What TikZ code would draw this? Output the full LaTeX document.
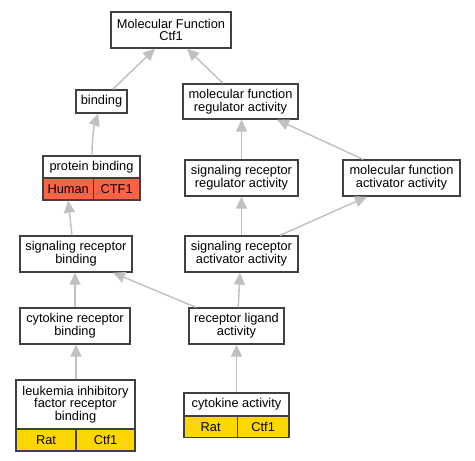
\documentclass[tikz,border=0pt]{standalone}
\usepackage{fontspec}
\setmainfont{Liberation Sans}
\usetikzlibrary{arrows.meta}
\definecolor{edgegray}{HTML}{C0C0C0}
\definecolor{boxline}{HTML}{404040}
\definecolor{human}{HTML}{FF6347}
\definecolor{rat}{HTML}{FFD700}
\begin{document}
\begin{tikzpicture}[x=1pt,y=-1pt,
  term/.style={draw=boxline, line width=1.3pt, fill=white, align=center, inner sep=0pt,
    font=\fontsize{12.8}{12.8}\selectfont},
  cell/.style={term},
  link/.style={draw=edgegray, line width=1.4pt, -{Triangle[length=12pt,width=11pt]}}]
\useasboundingbox (0,0) rectangle (475,461);
\fill[white] (0,0) rectangle (475,461);
% nodes
\node[term, minimum width=120pt, minimum height=36pt] (mf) at (171,30) {Molecular Function\\Ctf1};
\node[term, minimum width=51pt, minimum height=23pt] (bind) at (101.5,101.5) {binding};
\node[term, minimum width=115pt, minimum height=35pt] (mfreg) at (240.5,101.5) {molecular function\\regulator activity};
\node[term, minimum width=97pt, minimum height=22pt] (pb) at (91.5,167) {protein binding};
\node[cell, fill=human, minimum width=50.3pt, minimum height=22pt] (pbh) at (68.15,189) {Human};
\node[cell, fill=human, minimum width=46.7pt, minimum height=22pt] (pbc) at (116.65,189) {CTF1};
\node[term, minimum width=113pt, minimum height=36pt] (srra) at (241.5,178) {signaling receptor\\regulator activity};
\node[term, minimum width=117pt, minimum height=36pt] (mfaa) at (401.5,178) {molecular function\\activator activity};
\node[term, minimum width=112pt, minimum height=36pt] (srb) at (76,254) {signaling receptor\\binding};
\node[term, minimum width=113pt, minimum height=36pt] (sraa) at (241.5,254) {signaling receptor\\activator activity};
\node[term, minimum width=110pt, minimum height=36pt] (crb) at (75,326) {cytokine receptor\\binding};
\node[term, minimum width=95pt, minimum height=36pt] (rla) at (236.5,326) {receptor ligand\\activity};
\node[term, minimum width=119pt, minimum height=49pt] (lifrb) at (75.5,404.5) {leukemia inhibitory\\factor receptor\\binding};
\node[cell, fill=rat, minimum width=60pt, minimum height=22pt] (lifr) at (46,440) {Rat};
\node[cell, fill=rat, minimum width=59pt, minimum height=22pt] (lifc) at (105.5,440) {Ctf1};
\node[term, minimum width=105pt, minimum height=23pt] (ca) at (236.5,404.5) {cytokine activity};
\node[cell, fill=rat, minimum width=53.3pt, minimum height=21.5pt] (car) at (210.65,426.75) {Rat};
\node[cell, fill=rat, minimum width=51.7pt, minimum height=21.5pt] (cac) at (263.15,426.75) {Ctf1};
% edges
\path[link] ([xshift=11.2pt]bind.north) -- ([xshift=-16pt]mf.south);
\path[link] ([xshift=-17.5pt]mfreg.north) -- ([xshift=16pt]mf.south);
\path[link] ([xshift=0.5pt]pb.north) .. controls (92,138) and (94,126) .. ([xshift=-3.5pt]bind.south);
\path[link] ([xshift=-4pt]srb.north) -- (pbh.south);
\path[link] (srra.north) -- (srra.north |- mfreg.south);
\path[link] ([xshift=-38.5pt]mfaa.north) -- ([xshift=36.5pt]mfreg.south);
\path[link] (sraa.north) -- (sraa.north |- srra.south);
\path[link] ([xshift=38.5pt]sraa.north) -- ([xshift=-34.5pt]mfaa.south);
\path[link] (crb.north) -- (crb.north |- srb.south);
\path[link] ([xshift=-40.5pt]rla.north) -- ([xshift=37pt]srb.south);
\path[link] ([xshift=1.8pt]rla.north) -- ([xshift=-1.5pt]sraa.south);
\path[link] ([xshift=0.5pt]lifrb.north) -- ([xshift=1pt]crb.south);
\path[link] (ca.north) -- (ca.north |- rla.south);
\end{tikzpicture}
\end{document}
